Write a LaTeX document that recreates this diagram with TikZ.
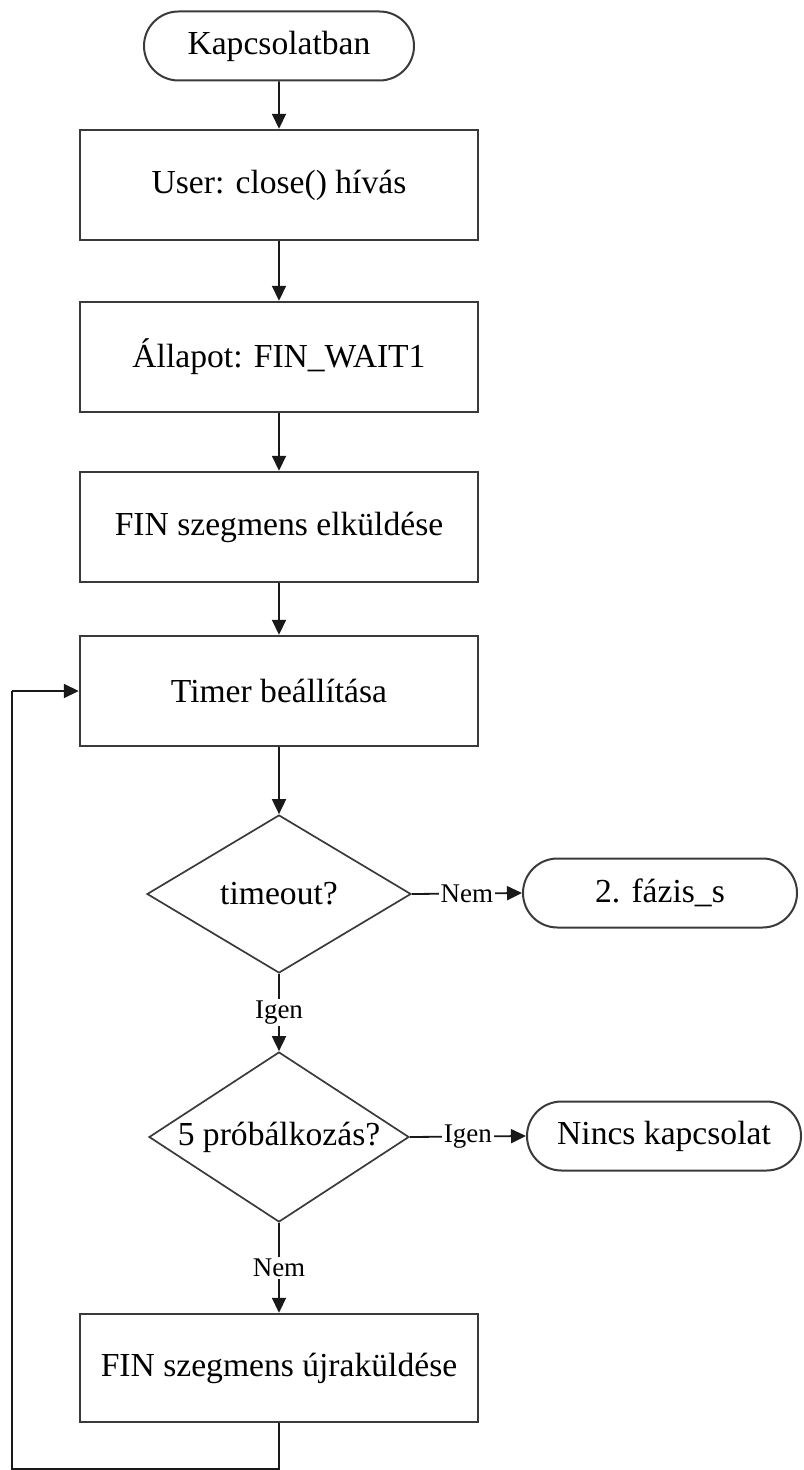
\documentclass[tikz,border=0pt]{standalone}
\usepackage{fontspec}
\setmainfont{Liberation Serif}
\usetikzlibrary{shapes.geometric,shapes.misc,arrows.meta}
\definecolor{edgegray}{HTML}{3A3A3A}
\begin{document}
\begin{tikzpicture}[x=0.5pt,y=-0.5pt,
  every node/.style={font=\rmfamily\fontsize{16.8}{19}\selectfont},
  procbox/.style={draw=edgegray,line width=1.2pt,rectangle,minimum width=199pt,minimum height=55pt,inner sep=0pt},
  terminal/.style={draw=edgegray,line width=1pt,rounded rectangle,minimum width=137pt,minimum height=34.5pt,inner sep=0pt},
  decision/.style={draw=edgegray,line width=0.85pt,diamond,inner sep=0pt,aspect=1.6},
  flow/.style={draw=black!90,line width=0.9pt,-{Triangle[length=7.5pt,width=7pt]}},
  plain/.style={draw=black!90,line width=0.9pt},
  lbl/.style={fill=white,inner sep=1pt,font=\rmfamily\fontsize{13.5}{15}\selectfont}
]
\useasboundingbox (0,0) rectangle (803,1470);

\node[terminal,minimum width=135pt] (start) at (279,46) {Kapcsolatban};
\node[procbox] (close) at (279,185) {User: close() hívás};
\node[procbox] (state) at (279,357) {Állapot: FIN\_WAIT1};
\node[procbox] (send) at (279,527) {FIN szegmens elküldése};
\node[procbox] (timer) at (279,691) {Timer beállítása};
\node[decision,minimum width=132pt,minimum height=79pt] (tout) at (279,894) {timeout?};
\node[terminal] (phase) at (660,893) {2. fázis\_s};
\node[decision,minimum width=130pt,minimum height=85pt] (tries) at (279,1137) {5 próbálkozás?};
\node[terminal] (noconn) at (664,1136) {Nincs kapcsolat};
\node[procbox,minimum height=54pt] (resend) at (279,1368) {FIN szegmens újraküldése};

\draw[flow] (start) -- (close);
\draw[flow] (close) -- (state);
\draw[flow] (state) -- (send);
\draw[flow] (send) -- (timer);
\draw[flow] (timer) -- (tout);
\draw[flow] (tout.east) -- node[lbl] {Nem} (phase.west);
\draw[flow] (tout.south) -- node[lbl] {Igen} (tries.north);
\draw[flow] (tries.east) -- node[lbl] {Igen} (noconn.west);
\draw[flow] (tries.south) -- node[lbl] {Nem} (resend.north);

% retry loop back to the timer
\coordinate (loopA) at (279,1469);
\coordinate (loopB) at (12,1469);
\coordinate (loopC) at (12,691);
\draw[plain] (resend.south) -- (loopA) -- (loopB) -- (loopC);
\draw[flow] (loopC) -- (timer.west);
\end{tikzpicture}
\end{document}
